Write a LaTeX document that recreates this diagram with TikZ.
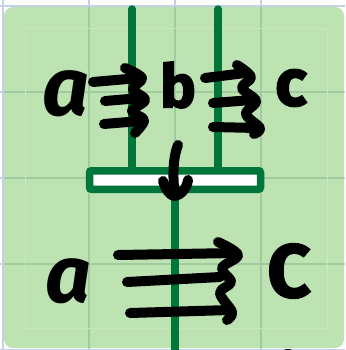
\documentclass[tikz,border=0pt]{standalone}
\usepackage{fontspec}
\newfontfamily\hand[BoldFeatures={FakeBold=2.5}]{Fira Sans}
\definecolor{bggreen}{RGB}{189,227,179}
\definecolor{dkgreen}{RGB}{0,118,58}
\definecolor{gridblue}{RGB}{196,208,232}
\definecolor{gridgreen}{RGB}{160,203,160}
\definecolor{innerline}{RGB}{200,233,192}
\tikzset{
  pen/.style={line width=10pt, line cap=round, line join=round, black},
  wire/.style={line width=7.5pt, dkgreen},
  letter/.style={inner sep=0pt, black},
  gridl/.style={line width=1.2pt},
}
\begin{document}
\begin{tikzpicture}[x=1pt,y=-1pt]
\useasboundingbox (0,0) rectangle (345,350);
\fill[white] (0,0) rectangle (345,350);
% outer grid
\foreach \g in {3,89,175,261,347} \draw[gridl,gridblue] (\g,0) -- (\g,350);
\foreach \g in {6,92,178,264,350} \draw[gridl,gridblue] (0,\g) -- (345,\g);
% green panel
\fill[bggreen,rounded corners=9pt] (4,7) rectangle (344,348);
\begin{scope}
\clip[rounded corners=9pt] (4,7) rectangle (344,348);
\foreach \g in {89,175,261} \draw[gridl,gridgreen] (\g,0) -- (\g,350);
\foreach \g in {92,178,264} \draw[gridl,gridgreen] (0,\g) -- (345,\g);
\draw[line width=0.8pt,innerline] (25,28) rectangle (327,328);
\end{scope}
% wires
\coordinate (w1t) at (132,9);
\coordinate (w2t) at (218,9);
\coordinate (w3b) at (175,352);
\node[draw=dkgreen, line width=7.5pt, fill=white, rounded corners=2pt, minimum width=171pt, minimum height=18.5pt, inner sep=0pt] (box) at (175,180) {};
\draw[wire,line cap=round] (w1t) -- (w1t |- box.north);
\draw[wire,line cap=round] (w2t) -- (w2t |- box.north);
\draw[wire] (box.south) -- (w3b);
% letters
\node[letter, font=\hand\bfseries\itshape\fontsize{82}{82}\selectfont] (a1) at (66,94) {a};
\node[letter, font=\hand\bfseries\fontsize{60}{60}\selectfont] (b1) at (178,85) {b};
\node[letter, font=\hand\bfseries\fontsize{66}{66}\selectfont] (c1) at (291,88) {c};
\node[letter, font=\hand\bfseries\itshape\fontsize{80}{80}\selectfont] (a2) at (68,281) {a};
\node[letter, font=\hand\bfseries\fontsize{75}{75}\selectfont] (c2) at (289,271) {C};
% triple arrow a -> b
\draw[pen] (93,82) -- (139,78);
\draw[pen] (105,101) -- (141,98);
\draw[pen] (104,124) -- (140,121);
\draw[pen] plot[smooth, tension=0.6] coordinates {(125,68) (142,78) (133,89) (145,100) (132,111) (144,120) (135,133)};
% triple arrow b -> c
\draw[pen] (205,78) -- (245,73);
\draw[pen] (213,103) -- (252,100);
\draw[pen] (213,127) -- (257,128);
\draw[pen] plot[smooth, tension=0.6] coordinates {(237,65) (251,77) (242,88) (256,101) (246,114) (260,128) (254,134)};
% triple arrow a -> C
\draw[pen] (118,255) -- (236,253);
\draw[pen] (127,282) -- (220,277);
\draw[pen] (130,313) -- (230,310);
\draw[pen] plot[smooth, tension=0.6] coordinates {(218,242) (238,255) (222,268) (231,282) (220,293) (232,312) (227,320)};
% down arrow through the box
\coordinate (dtop) at (178,145);
\coordinate (dtip) at (175,196);
\draw[pen] (dtop) .. controls (172,160) and (173,182) .. (dtip);
\draw[pen] (163,181) .. controls (166,190) and (170,196) .. (dtip) .. controls (181,195) and (187,188) .. (188,180);
% cut-off mark at the bottom edge
\fill[black] (288,354) ellipse (7pt and 5pt);
\end{tikzpicture}
\end{document}
